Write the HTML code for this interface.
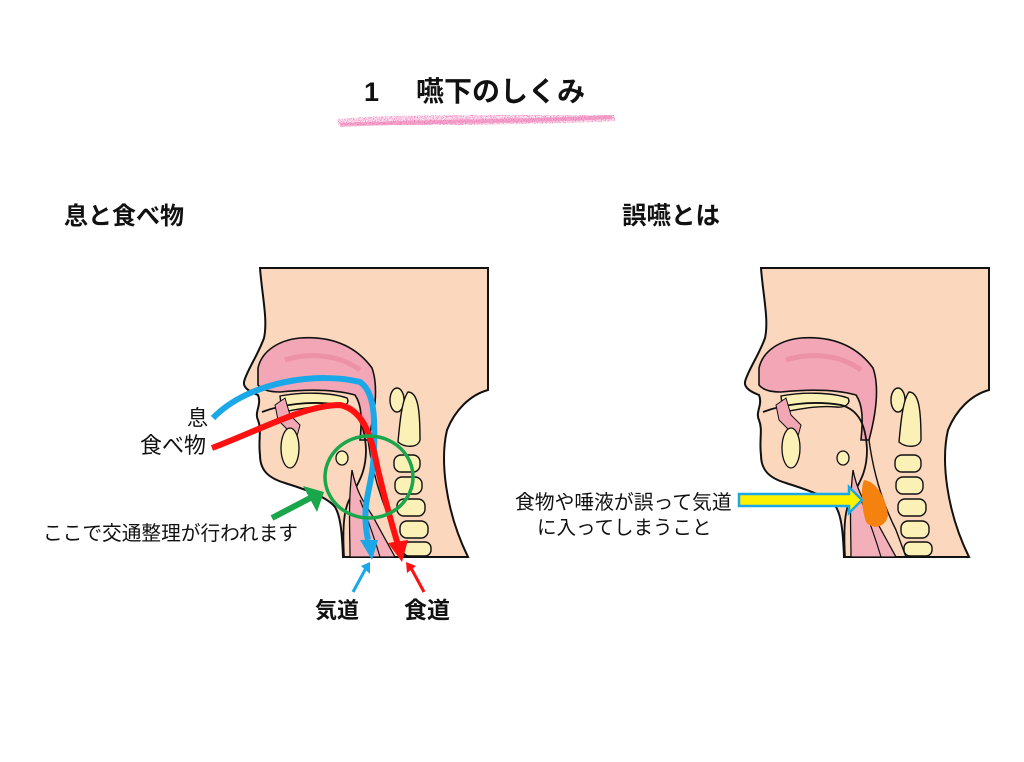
<!DOCTYPE html>
<html><head><meta charset="utf-8"><style>
body{margin:0;background:#fff;width:1024px;height:762px;overflow:hidden;}
svg{display:block}
text{font-family:"Liberation Sans","Noto Sans CJK JP",sans-serif;fill:#111}
</style></head><body>
<svg width="1024" height="762" viewBox="0 0 1024 762">
<defs>
<filter id="rough"><feTurbulence type="fractalNoise" baseFrequency="0.9" numOctaves="2" result="n"/><feColorMatrix in="n" type="matrix" values="0 0 0 0 0  0 0 0 0 0  0 0 0 0 0  0 0 0 -2.2 1.4" result="m"/><feComposite in="SourceGraphic" in2="m" operator="in"/></filter>
<g id="head">
 <path d="M260,268 L488,268 L488,390 C470,395 455,410 447,430 C440,460 445,510 468,557 L343,557 C342,530 340,515 335,507 C325,495 300,488 285,483 C268,478 260,470 260,455 C258,440 262,430 258,420 C254,412 262,405 258,395 C250,392 243,388 244,382 C246,372 258,355 264,338 C268,320 262,295 260,268 Z" fill="#fbd7bd" stroke="#111" stroke-width="2"/>
 <path d="M258,368 C262,350 280,340 300,338 C330,336 355,345 372,368 C378,385 376,410 368,440 L360,440 C362,420 362,405 355,395 C330,388 300,390 280,392 C270,392 262,390 258,385 Z" fill="#f3a6b6" stroke="#111" stroke-width="1.6"/>
 <path d="M285,360 C310,352 340,355 360,370" stroke="#ea8aa0" stroke-width="5" fill="none" opacity=".7"/>
 <path d="M280,396 C300,392 330,392 347,398 C350,403 345,408 335,407 C315,405 295,410 282,412 Z" fill="#fbf1b6" stroke="#111" stroke-width="1.4"/>
 <path d="M262,412 C280,405 310,400 340,405 C358,410 365,425 366,450 C366,470 360,480 352,495 C345,505 342,520 344,557" fill="none" stroke="#111" stroke-width="1.8"/>
 <path d="M275,405 L285,398 L290,415 L300,425 L296,440 L286,428 L278,420 Z" fill="#f1a7b4" stroke="#111" stroke-width="1"/>
 <ellipse cx="290" cy="448" rx="9" ry="20" fill="#fbf1b6" stroke="#111" stroke-width="1.3"/>
 <ellipse cx="342" cy="458" rx="6" ry="7" fill="#fbf1b6" stroke="#111" stroke-width="1.3"/>
 <path d="M352,470 C356,490 362,500 372,515 L395,557 L350,557 C350,530 348,505 352,470Z" fill="#f4b0ba" stroke="#111" stroke-width="1.3"/>
 <path d="M368,440 C372,470 380,500 395,530 L405,557" fill="none" stroke="#111" stroke-width="1.4"/>
 <path d="M360,500 C368,520 375,540 380,557" fill="none" stroke="#111" stroke-width="1.2"/>
 <ellipse cx="397" cy="400" rx="7" ry="12" fill="#fbf1b6" stroke="#111" stroke-width="1.4"/>
 <path d="M408,392 C418,392 420,410 420,440 C418,448 405,448 398,442 C400,420 402,400 408,392Z" fill="#fbf1b6" stroke="#111" stroke-width="1.4"/>
 <rect x="394" y="455" width="26" height="17" rx="7" fill="#fbf1b6" stroke="#111" stroke-width="1.4"/>
 <rect x="395" y="477" width="27" height="17" rx="7" fill="#fbf1b6" stroke="#111" stroke-width="1.4"/>
 <rect x="397" y="499" width="28" height="17" rx="7" fill="#fbf1b6" stroke="#111" stroke-width="1.4"/>
 <rect x="400" y="521" width="28" height="17" rx="7" fill="#fbf1b6" stroke="#111" stroke-width="1.4"/>
 <rect x="403" y="542" width="28" height="14" rx="6" fill="#fbf1b6" stroke="#111" stroke-width="1.4"/>
</g>
</defs>

<text x="364" y="101" font-size="27" font-weight="bold">1</text>
<text x="416" y="101" font-size="28" font-weight="bold">嚥下のしくみ</text>
<path d="M338,124 C400,118 500,122 615,116" stroke="#f0409a" stroke-width="10" fill="none" filter="url(#rough)" opacity=".9"/>
<path d="M340,125 C420,121 520,122 612,117" stroke="#ef7cb4" stroke-width="4" fill="none" opacity=".6"/>

<text x="64" y="224" font-size="24" font-weight="bold">息と食べ物</text>
<text x="622" y="224" font-size="24.5" font-weight="bold">誤嚥とは</text>

<use href="#head"/>
<use href="#head" transform="translate(501,0)"/>

<path d="M213,418 C250,380 320,372 360,382 C375,392 375,420 374,450 C373,490 360,500 368,540" stroke="#1ba8e8" stroke-width="6" fill="none"/>
<path d="M360,540 L378,540 L372,560 Z" fill="#1ba8e8"/>
<path d="M212,448 C260,430 305,405 340,405 C365,410 372,440 378,470 C385,500 392,525 398,545" stroke="#f11" stroke-width="6" fill="none"/>
<path d="M388,543 L408,540 L402,562 Z" fill="#f11"/>
<ellipse cx="369" cy="477" rx="44" ry="41" stroke="#1aa64a" stroke-width="3.5" fill="none"/>
<path d="M272,518 L316,495" stroke="#1aa64a" stroke-width="6"/>
<path d="M303,486 L324,492 L317,512 Z" fill="#1aa64a"/>
<path d="M353,592 L366,568" stroke="#1ba8e8" stroke-width="3"/>
<path d="M361,566 L370,562 L370,574 Z" fill="#1ba8e8"/>
<path d="M424,592 L411,568" stroke="#f11" stroke-width="3"/>
<path d="M406,562 L416,566 L407,573 Z" fill="#f11"/>

<text x="187" y="425" font-size="21">息</text>
<text x="140" y="453" font-size="22">食べ物</text>
<text x="43" y="540" font-size="19.7">ここで交通整理が行われます</text>
<text x="315" y="618" font-size="22" font-weight="bold">気道</text>
<text x="404" y="618" font-size="23" font-weight="bold">食道</text>

<path d="M864,480 C878,482 886,500 888,515 C886,528 872,530 866,522 C862,510 860,490 864,480Z" fill="#f5820f"/>
<path d="M739,494 L849,494 L849,487 L862,500 L849,513 L849,506 L739,506 Z" fill="#fff200" stroke="#1ba8e8" stroke-width="2.5"/>
<text x="515" y="509" font-size="19.8">食物や唾液が誤って気道</text>
<text x="537" y="534" font-size="19.5">に入ってしまうこと</text>
</svg>
</body></html>
